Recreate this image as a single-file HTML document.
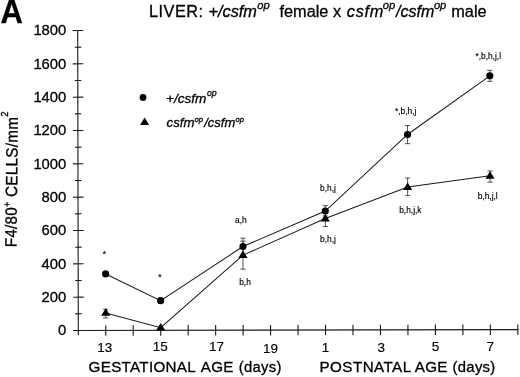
<!DOCTYPE html>
<html><head><meta charset="utf-8"><title>Figure A</title>
<style>
html,body{margin:0;padding:0;background:#fff;}
body{width:520px;height:377px;overflow:hidden;}
svg{display:block;}
text{font-family:"Liberation Sans",Arial,sans-serif;fill:#000;stroke:#000;stroke-width:0.3px;}
.ax{stroke:#1a1a1a;stroke-width:1.1;fill:none;}
.ln{stroke:#1a1a1a;stroke-width:1.0;fill:none;}
.eb{stroke:#2a2a2a;stroke-width:0.8;fill:none;}
.tk{font-size:14.8px;}
.an{font-size:8.4px;stroke-width:0.15px;}
.lb{font-size:15.2px;letter-spacing:0.3px;}
.tx{font-size:13.5px;stroke-width:0.15px;}
.it{font-style:italic;}
</style></head><body>
<svg width="520" height="377" viewBox="0 0 520 377">
<rect width="520" height="377" fill="#fff"/>
<text transform="translate(0.5 23.1) scale(0.95 1)" font-size="32.6" font-weight="bold" stroke-width="0">A</text>
<text><tspan x="149" y="17.2" font-size="16.3" letter-spacing="0.5">LIVER:</tspan> <tspan class="it" x="208.5" y="17.2" font-size="16.3">+/csfm</tspan><tspan class="it" x="257.3" y="9.2" font-size="11.2">op</tspan> <tspan x="279.5" y="17.2" font-size="16.3">female</tspan> <tspan x="333.1" y="17.2" font-size="16.3">x</tspan> <tspan class="it" x="346.8" y="17.2" font-size="16.3" letter-spacing="0.7">csfm</tspan><tspan class="it" x="382.8" y="9.2" font-size="11.2">op</tspan><tspan class="it" x="396.0" y="17.2" font-size="16.0">/csfm</tspan><tspan class="it" x="433.9" y="9.2" font-size="11.2">op</tspan> <tspan x="451.3" y="17.2" font-size="16.3">male</tspan></text>
<g transform="rotate(-0.117 78.3 330.5)">
<path class="ax" d="M78.3 30 V335.3"/>
<path class="ax" d="M73.3 330.5 H518.3"/>
<path class="ax" d="M73.3 330.50H83.8M75.3 313.83H81.8M73.3 297.17H83.8M75.3 280.50H81.8M73.3 263.83H83.8M75.3 247.17H81.8M73.3 230.50H83.8M75.3 213.83H81.8M73.3 197.17H83.8M75.3 180.50H81.8M73.3 163.83H83.8M75.3 147.17H81.8M73.3 130.50H83.8M75.3 113.83H81.8M73.3 97.17H83.8M75.3 80.50H81.8M73.3 63.83H83.8M75.3 47.17H81.8M73.3 30.50H83.8"/>
<path class="ax" d="M105.77 325.3V335.8M133.24 325.3V335.8M160.71 325.3V335.8M188.18 325.3V335.8M215.65 325.3V335.8M243.12 325.3V335.8M270.59 325.3V335.8M298.06 325.3V335.8M325.53 325.3V335.8M353.00 325.3V335.8M380.47 325.3V335.8M407.94 325.3V335.8M435.41 325.3V335.8M462.88 325.3V335.8M490.35 325.3V335.8M517.82 325.3V335.8"/>
</g>
<text class="tk" x="66.3" y="335.40" text-anchor="end">0</text>
<text class="tk" x="66.3" y="302.07" text-anchor="end">200</text>
<text class="tk" x="66.3" y="268.73" text-anchor="end">400</text>
<text class="tk" x="66.3" y="235.40" text-anchor="end">600</text>
<text class="tk" x="66.3" y="202.07" text-anchor="end">800</text>
<text class="tk" x="66.3" y="168.73" text-anchor="end">1000</text>
<text class="tk" x="66.3" y="135.40" text-anchor="end">1200</text>
<text class="tk" x="66.3" y="102.07" text-anchor="end">1400</text>
<text class="tk" x="66.3" y="68.73" text-anchor="end">1600</text>
<text class="tk" x="66.3" y="35.40" text-anchor="end">1800</text>
<text class="tx" x="104.87" y="351.8" text-anchor="middle">13</text>
<text class="tx" x="160.31" y="351.1" text-anchor="middle">15</text>
<text class="tx" x="216.45" y="351.3" text-anchor="middle">17</text>
<text class="tx" x="270.59" y="353.1" text-anchor="middle">19</text>
<text class="tx" x="325.53" y="351.8" text-anchor="middle">1</text>
<text class="tx" x="381.27" y="351.8" text-anchor="middle">3</text>
<text class="tx" x="435.41" y="350.8" text-anchor="middle">5</text>
<text class="tx" x="490.35" y="350.8" text-anchor="middle">7</text>
<text class="lb"><tspan x="88.6" y="372.3">GESTATIONAL</tspan> <tspan x="200.8" y="372.3">AGE</tspan> <tspan x="238.8" y="372.3" style="font-size:14.8px">(days)</tspan></text>
<text class="lb"><tspan x="319.5" y="372.3" style="letter-spacing:0.45px">POSTNATAL</tspan> <tspan x="414.8" y="372.3">AGE</tspan> <tspan x="452.6" y="372.3" style="font-size:14.8px">(days)</tspan></text>
<text class="lb" transform="translate(16.5 247.3) rotate(-89.4) scale(1 1.08)">F4/80<tspan font-size="9" dy="-6.3">+</tspan><tspan dy="6.3"> CELLS/mm</tspan><tspan font-size="9.5" dy="-9.2">2</tspan></text>
<g transform="rotate(-0.117 78.3 330.5)">
<path class="eb" d="M243.12 238.50V255.17M240.52 238.50H245.72M240.52 255.17H245.72M325.53 206.17V216.50M322.93 206.17H328.13M322.93 216.50H328.13M407.94 126.17V144.33M405.34 126.17H410.54M405.34 144.33H410.54M490.35 71.17V82.17M487.75 71.17H492.95M487.75 82.17H492.95M105.77 309.33V318.00M103.17 309.33H108.37M103.17 318.00H108.37M243.12 241.50V269.50M240.52 241.50H245.72M240.52 269.50H245.72M325.53 214.00V227.00M322.93 214.00H328.13M322.93 227.00H328.13M407.94 178.67V196.33M405.34 178.67H410.54M405.34 196.33H410.54M490.35 171.83V183.00M487.75 171.83H492.95M487.75 183.00H492.95"/>
<path class="ln" d="M105.77 274.00 L160.71 300.83 L243.12 246.83 L325.53 211.50 L407.94 135.17 L490.35 76.67"/>
<path class="ln" d="M105.77 313.00 L160.71 327.83 L243.12 255.50 L325.53 219.00 L407.94 187.67 L490.35 176.67"/>
<circle cx="105.77" cy="274.00" r="3.58" fill="#000"/>
<circle cx="160.71" cy="300.83" r="3.58" fill="#000"/>
<circle cx="243.12" cy="246.83" r="3.58" fill="#000"/>
<circle cx="325.53" cy="211.50" r="3.58" fill="#000"/>
<circle cx="407.94" cy="135.17" r="3.58" fill="#000"/>
<circle cx="490.35" cy="76.67" r="3.58" fill="#000"/>
<path d="M105.77 308.40L110.37 315.90H101.17Z" fill="#000"/>
<path d="M160.71 323.23L165.31 330.73H156.11Z" fill="#000"/>
<path d="M243.12 250.90L247.72 258.40H238.52Z" fill="#000"/>
<path d="M325.53 214.40L330.13 221.90H320.93Z" fill="#000"/>
<path d="M407.94 183.07L412.54 190.57H403.34Z" fill="#000"/>
<path d="M490.35 172.07L494.95 179.57H485.75Z" fill="#000"/>
</g>
<circle cx="143" cy="97.5" r="3.4" fill="#000"/>
<path d="M144.6 117.4L149.2 125H140.1Z" fill="#000"/>
<text><tspan class="it" x="166" y="102.6" font-size="13.6">+/csfm</tspan><tspan class="it" x="206.9" y="95.9" font-size="8.8">op</tspan></text>
<text><tspan class="it" x="166.6" y="126.6" font-size="13.2">csfm</tspan><tspan class="it" x="194.6" y="121.5" font-size="7.7">op</tspan><tspan class="it" x="204.2" y="126.6" font-size="13.0">/csfm</tspan><tspan class="it" x="235.6" y="121.5" font-size="7.7">op</tspan></text>
<text class="an" x="104.4" y="257.4" text-anchor="middle">*</text>
<text class="an" x="159.8" y="280.0" text-anchor="middle">*</text>
<text class="an" x="235.1" y="223">a,h</text>
<text class="an" x="239.2" y="285.2">b,h</text>
<text class="an" x="320" y="191.2">b,h,j</text>
<text class="an" x="320" y="242.2">b,h,j</text>
<text class="an" x="395.0" y="113.7">*,b,h,j</text>
<text class="an" x="399.2" y="212.5">b,h,j,k</text>
<text class="an" x="475.4" y="59.2">*,b,h,j,l</text>
<text class="an" x="477.7" y="199.4">b,h,j,l</text>
</svg></body></html>
